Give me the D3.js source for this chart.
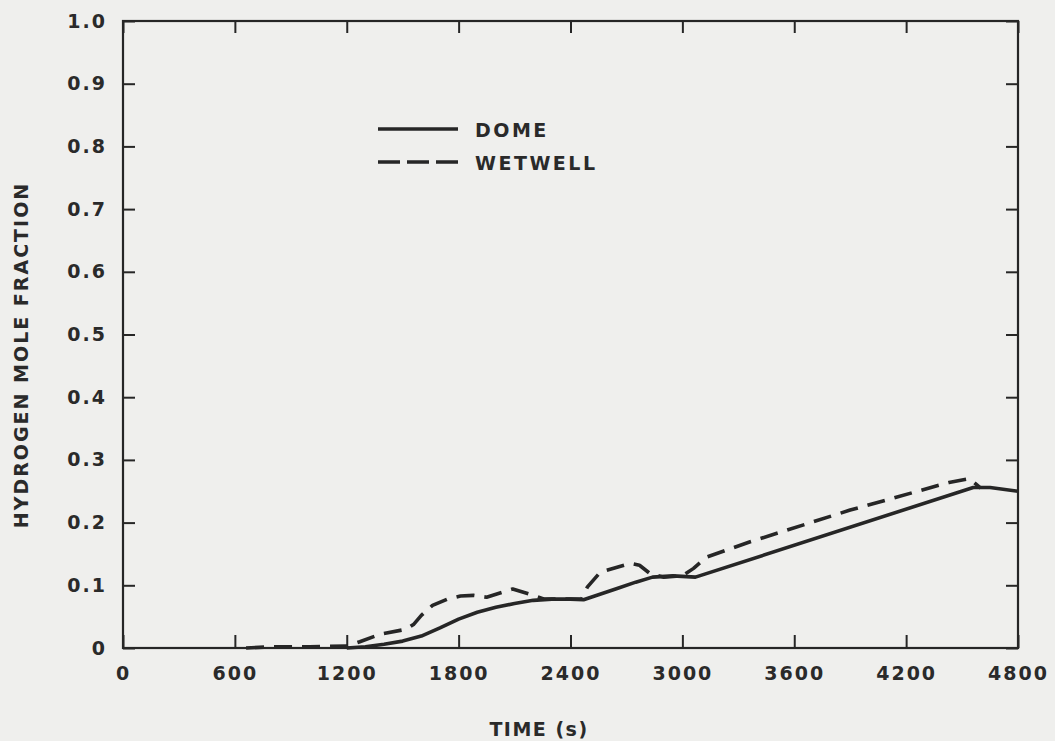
<!DOCTYPE html>
<html>
<head>
<meta charset="utf-8">
<script src="https://cdn.jsdelivr.net/npm/d3@7"></script>
<style>
  body { margin: 0; background: #efefed; }
  svg { display: block; }
  .tick text, .lbl { font-family: "DejaVu Sans", sans-serif; font-weight: bold; fill: #2a2a2a; }
</style>
</head>
<body>
<div id="chart"></div>
<script>
// ============ data =================================
var xTicks = [0, 600, 1200, 1800, 2400, 3000, 3600, 4200, 4800];
var yTicks = [0, 0.1, 0.2, 0.3, 0.4, 0.5, 0.6, 0.7, 0.8, 0.9, 1.0];

// DOME (solid)
var domeTime = [1200, 1300, 1400, 1500, 1600, 1700, 1800, 1900, 2000, 2100, 2200, 2300, 2400, 2470, 2550, 2650, 2750, 2840, 2950, 3070, 4560, 4650, 4800];
var domeH2   = [0.000, 0.002, 0.006, 0.011, 0.019, 0.032, 0.046, 0.057, 0.065, 0.071, 0.076, 0.078, 0.078, 0.077, 0.085, 0.095, 0.105, 0.113, 0.115, 0.113, 0.256, 0.256, 0.250];

// WETWELL (dashed)
var wetTime = [660, 800, 1000, 1200, 1270, 1380, 1520, 1560, 1600, 1660, 1740, 1810, 1880, 1950, 2090, 2200, 2260, 2350, 2460, 2490, 2560, 2720, 2770, 2830, 2900, 3000, 3060, 3130, 3360, 3900, 4430, 4540, 4600];
var wetH2   = [0.000, 0.002, 0.002, 0.003, 0.010, 0.022, 0.030, 0.038, 0.052, 0.068, 0.078, 0.083, 0.084, 0.081, 0.094, 0.084, 0.078, 0.078, 0.078, 0.097, 0.121, 0.135, 0.132, 0.118, 0.113, 0.115, 0.127, 0.145, 0.169, 0.220, 0.264, 0.270, 0.255];

// ============ chart set up =============
var svgWidth = 1055;
var svgHeight = 741;
var margin = { top: 21, right: 37, bottom: 93, left: 123 };
var width = svgWidth - margin.left - margin.right;
var height = svgHeight - margin.top - margin.bottom;
var ink = "#262626";

var svg = d3.select("#chart").append("svg")
  .attr("width", svgWidth)
  .attr("height", svgHeight);

var chartGroup = svg.append("g")
  .attr("transform", `translate(${margin.left}, ${margin.top})`);

var xScale = d3.scaleLinear().domain([0, 4800]).range([0, width]);
var yScale = d3.scaleLinear().domain([0, 1]).range([height, 0]);

// frame
chartGroup.append("rect")
  .attr("width", width).attr("height", height)
  .attr("fill", "none").attr("stroke", ink).attr("stroke-width", 2.2);

// axes with inward ticks
var bottomAxis = d3.axisBottom(xScale).tickValues(xTicks).tickSizeInner(-13).tickSizeOuter(0).tickPadding(19).tickFormat(d3.format("d"));
var leftAxis = d3.axisLeft(yScale).tickValues(yTicks).tickSizeInner(-12).tickSizeOuter(0).tickPadding(16)
  .tickFormat(d => d === 0 ? "0" : d3.format(".1f")(d));
var topAxis = d3.axisTop(xScale).tickValues(xTicks).tickSizeInner(-12).tickSizeOuter(0).tickFormat("");
var rightAxis = d3.axisRight(yScale).tickValues(yTicks).tickSizeInner(-12).tickSizeOuter(0).tickFormat("");

function styleAxis(g) {
  g.select(".domain").remove();
  g.selectAll(".tick line").attr("stroke", ink).attr("stroke-width", 2);
  g.selectAll(".tick text").attr("font-size", 19).attr("letter-spacing", 2);
}

chartGroup.append("g").attr("transform", `translate(0, ${height})`).call(bottomAxis).call(styleAxis);
chartGroup.append("g").call(leftAxis).call(styleAxis);
chartGroup.append("g").call(topAxis).call(styleAxis);
chartGroup.append("g").attr("transform", `translate(${width}, 0)`).call(rightAxis).call(styleAxis);

// lines
var line = d3.line()
  .x(d => xScale(d[0]))
  .y(d => yScale(d[1]))
  .curve(d3.curveLinear);

chartGroup.append("path")
  .datum(domeTime.map((t, i) => [t, domeH2[i]]))
  .attr("d", line)
  .attr("fill", "none").attr("stroke", ink).attr("stroke-width", 3.6)
  .attr("stroke-linejoin", "round");

chartGroup.append("path")
  .datum(wetTime.map((t, i) => [t, wetH2[i]]))
  .attr("d", line)
  .attr("fill", "none").attr("stroke", ink).attr("stroke-width", 3.6)
  .attr("stroke-linejoin", "round")
  .attr("stroke-dasharray", "18,10");

// legend
var legend = svg.append("g").attr("transform", "translate(378, 129)");
[["DOME", null], ["WETWELL", "22,7"]].forEach(function(item, i) {
  var y = i * 33;
  legend.append("line")
    .attr("x1", 0).attr("x2", 80).attr("y1", y).attr("y2", y)
    .attr("stroke", ink).attr("stroke-width", 3.6)
    .attr("stroke-dasharray", item[1]);
  legend.append("text").attr("class", "lbl")
    .attr("x", 97).attr("y", y + 8)
    .attr("font-size", 19).attr("letter-spacing", 2.5)
    .text(item[0]);
});

// axis titles
svg.append("text").attr("class", "lbl")
  .attr("x", 539).attr("y", 736)
  .attr("text-anchor", "middle")
  .attr("font-size", 19).attr("letter-spacing", 1.5)
  .text("TIME (s)");

svg.append("text").attr("class", "lbl")
  .attr("transform", "translate(28, 355) rotate(-90)")
  .attr("text-anchor", "middle")
  .attr("font-size", 19).attr("letter-spacing", 2)
  .text("HYDROGEN MOLE FRACTION");
</script>
</body>
</html>
